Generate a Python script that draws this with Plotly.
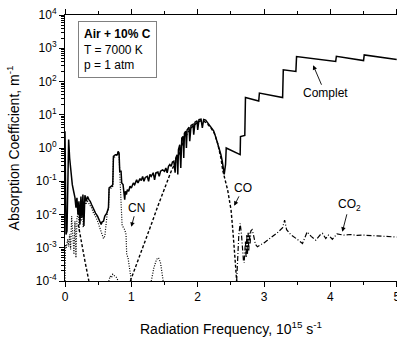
import plotly.graph_objects as go

# ---------------- data ----------------
complete_x = [0.000, 0.008, 0.015, 0.030, 0.045, 0.055, 0.07, 0.09, 0.11, 0.13, 0.15, 0.165, 0.18, 0.195,
              0.21, 0.225, 0.24, 0.255, 0.27, 0.285, 0.30, 0.32, 0.34, 0.36, 0.38, 0.40, 0.43, 0.46, 0.49,
              0.52, 0.545, 0.56, 0.58, 0.60, 0.63, 0.655, 0.665, 0.70, 0.72, 0.73, 0.76, 0.79, 0.80, 0.815,
              0.825, 0.845, 0.855, 0.875, 0.89, 0.90, 0.91, 0.925, 0.94, 0.96, 0.98, 1.00, 1.03, 1.05, 1.08,
              1.10, 1.13, 1.15, 1.17, 1.19, 1.21, 1.24, 1.26, 1.28, 1.30, 1.33, 1.35, 1.37, 1.40, 1.42, 1.44,
              1.47, 1.50, 1.52, 1.54, 1.56, 1.58, 1.60, 1.62, 1.64, 1.66, 1.67, 1.69, 1.70, 1.71, 1.73, 1.745,
              1.76, 1.78, 1.79, 1.80, 1.82, 1.83, 1.84, 1.87, 1.88, 1.90, 1.93, 1.94, 1.96, 1.99, 2.00, 2.02,
              2.05, 2.07, 2.09, 2.12, 2.15, 2.18, 2.21, 2.24, 2.27, 2.30, 2.33, 2.35, 2.37, 2.39, 2.40, 2.42,
              2.43, 2.64, 2.645, 2.71, 2.72, 2.92, 2.93, 3.28, 3.29, 3.48, 3.49, 4.08, 4.09, 4.50, 4.51, 5.00]
complete_y = [3.2, 0.032, 0.0025, 0.0032, 0.1, 1.8, 0.5, 0.16, 0.079, 0.05, 0.032, 0.016, 0.032, 0.01,
              0.025, 0.005, 0.035, 0.0079, 0.04, 0.0045, 0.038, 0.025, 0.035, 0.028, 0.025, 0.02, 0.014, 0.011, 0.0089,
              0.0063, 0.005, 0.006, 0.0063, 0.0089, 0.011, 0.016, 0.063, 0.071, 0.079, 0.56, 0.63, 0.63, 0.79, 0.71,
              0.2, 0.2, 0.089, 0.079, 0.032, 0.028, 0.05, 0.04, 0.056, 0.05, 0.071, 0.063, 0.089, 0.079, 0.11,
              0.089, 0.12, 0.105, 0.14, 0.1, 0.13, 0.14, 0.1, 0.16, 0.14, 0.18, 0.11, 0.18, 0.19, 0.14, 0.2,
              0.22, 0.2, 0.25, 0.18, 0.28, 0.32, 0.28, 0.38, 0.4, 0.18, 0.5, 0.63, 0.16, 0.89, 1.26, 0.25,
              2.0, 2.24, 0.5, 2.8, 3.2, 1.0, 3.5, 4.2, 1.6, 4.8, 5.2, 2.5, 6.0, 6.6, 3.5, 7.1,
              7.4, 4.0, 7.2, 6.9, 5.8, 5.0, 4.0, 3.3, 2.2, 1.4, 1.0, 0.63, 0.4, 0.22, 0.16, 0.32,
              1.0, 0.63, 2.2, 2.4, 33, 26, 45, 33, 224, 200, 560, 400, 575, 427, 630, 457]

cn_x = [0.000, 0.003, 0.008, 0.02, 0.04, 0.055, 0.07, 0.085, 0.10, 0.12, 0.135, 0.15, 0.165, 0.18, 0.20,
        0.215, 0.23, 0.245, 0.26, 0.275, 0.29, 0.31, 0.34, 0.37, 0.40, 0.43, 0.46, 0.49, 0.52, 0.55, 0.58,
        0.60, 0.62, 0.64, 0.655, 0.665, 0.70, 0.72, 0.73, 0.76, 0.80, 0.815, 0.825, 0.84, 0.86, 0.88, 0.90,
        0.92, 0.93, 0.95, 0.98, 1.00, None,
        0.66, 0.68, 0.70, 0.72, 0.75, 0.78, 0.80, None,
        1.30, 1.34, 1.38, 1.41, 1.44, 1.47, 1.48]
cn_y = [1.0e-4, 6.3e-4, 1.26e-3, 1.0e-3, 1.8e-3, 1.1e-3, 2.5e-3, 8.9e-4, 8.9e-3, 2.0e-3, 6.3e-4, 6.3e-3, 5.0e-4, 7.9e-3, 1.1e-2,
        3.2e-3, 1.8e-2, 6.3e-3, 2.8e-2, 4.0e-3, 2.5e-2, 2.0e-2, 2.5e-2, 2.0e-2, 1.6e-2, 1.1e-2, 8.9e-3, 6.3e-3, 4.0e-3, 2.8e-3, 1.9e-3,
        2.2e-3, 6.3e-3, 1.26e-2, 1.4e-2, 5.6e-2, 6.3e-2, 7.1e-2, 0.5, 0.56, 0.71, 0.63, 0.18, 2.5e-2, 5.0e-3, 4.0e-3, 3.5e-3,
        2.5e-3, 6.3e-4, 5.0e-4, 2.0e-4, 1.0e-4, None,
        1.0e-4, 1.4e-4, 1.26e-4, 1.6e-4, 1.4e-4, 1.26e-4, 1.0e-4, None,
        1.0e-4, 2.5e-4, 4.5e-4, 5.0e-4, 3.5e-4, 1.6e-4, 1.0e-4]

co_x = [0.20, 0.25, 0.30, 0.36, None,
        0.985, 1.10, 1.20, 1.30, 1.40, 1.50, 1.60, 1.65, 1.70, 1.75, 1.80, 1.90, 2.00, 2.05, 2.10, 2.15,
        2.20, 2.25, 2.30, 2.35, 2.378, 2.452, 2.503, 2.527, 2.553, 2.568, 2.587]
co_y = [5.0e-3, 1.26e-3, 4.0e-4, 1.0e-4, None,
        1.0e-4, 4.0e-4, 1.4e-3, 5.0e-3, 1.8e-2, 6.3e-2, 0.2, 0.32, 0.5, 1.0, 2.0, 4.0, 6.0, 6.6, 6.3, 5.2,
        4.0, 2.8, 1.4, 0.5, 0.21, 0.054, 0.0135, 0.0039, 0.00107, 0.00034, 0.0001]

co2_x = [2.587, 2.60, 2.62, 2.64, 2.66, 2.69, 2.70, 2.72, 2.73, 2.74, 2.75, 2.76, 2.77, 2.78, 2.79, 2.80,
         2.82, 2.84, 2.87, 2.90, 3.00, 3.10, 3.20, 3.28, 3.31, 3.34, 3.40, 3.50, 3.58, 3.65, 3.71, 3.78,
         3.85, 3.88, 3.93, 3.97, 4.03, 4.10, 4.20, 4.30, 4.40, 4.50, 4.60, 4.70, 4.80, 4.90, 5.00]
co2_y = [1.0e-4, 5.0e-4, 2.5e-3, 5.4e-3, 2.5e-3, 4.0e-4, 3.5e-4, 1.6e-3, 5.0e-4, 2.5e-3, 6.3e-4, 2.8e-3, 7.9e-4, 2.8e-3, 1.26e-3, 3.2e-3,
         3.5e-3, 2.5e-3, 1.26e-3, 1.07e-3, 1.4e-3, 2.0e-3, 2.8e-3, 4.0e-3, 6.8e-3, 3.5e-3, 2.5e-3, 1.8e-3, 1.35e-3, 3.0e-3, 2.2e-3, 1.7e-3,
         2.5e-3, 2.7e-3, 1.9e-3, 2.4e-3, 1.8e-3, 2.6e-3, 2.4e-3, 2.5e-3, 2.35e-3, 2.4e-3, 2.35e-3, 2.3e-3, 2.25e-3, 2.2e-3, 2.1e-3]

x_tickvals = [0, 1, 2, 3, 4, 5]
x_ticktext = ["0", "1", "2", "3", "4", "5"]
y_tickvals = [1e-4, 1e-3, 1e-2, 1e-1, 1e0, 1e1, 1e2, 1e3, 1e4]
y_ticktext = ["10<sup>-4</sup>", "10<sup>-3</sup>", "10<sup>-2</sup>", "10<sup>-1</sup>", "10<sup>0</sup>",
              "10<sup>1</sup>", "10<sup>2</sup>", "10<sup>3</sup>", "10<sup>4</sup>"]

# (label, arrow head x, arrow head log10 y, text offset ax, ay in pixels)
labels = [
    ("Complet", 3.74, 2.49, 12, 28),
    ("CN", 1.00, -2.37, 5, -19),
    ("CO", 2.55, -1.74, 9, -18),
    ("CO<sub>2</sub>", 4.18, -2.52, 7, -27),
]

FONT = "Liberation Sans, Arial, sans-serif"

fig = go.Figure()
fig.add_trace(go.Scatter(x=cn_x, y=cn_y, mode="lines", line=dict(color="black", width=1.2, dash="1px,1.5px"),
                         connectgaps=False, showlegend=False))
fig.add_trace(go.Scatter(x=co_x, y=co_y, mode="lines", line=dict(color="black", width=1.4, dash="3px,2px"),
                         connectgaps=False, showlegend=False))
fig.add_trace(go.Scatter(x=co2_x, y=co2_y, mode="lines", line=dict(color="black", width=1.2, dash="5px,2px,1px,2px"),
                         showlegend=False))
fig.add_trace(go.Scatter(x=complete_x, y=complete_y, mode="lines", line=dict(color="black", width=1.5),
                         showlegend=False))

for text, hx, hy, ax, ay in labels:
    fig.add_annotation(x=hx, y=hy, xref="x", yref="y", text=text, showarrow=True,
                       ax=ax, ay=ay, axref="pixel", ayref="pixel", standoff=0,
                       arrowhead=2, arrowsize=1, arrowwidth=0.9, arrowcolor="black",
                       font=dict(family=FONT, size=12, color="black"))

fig.add_annotation(x=0.04, y=0.978, xref="paper", yref="paper", xanchor="left", yanchor="top",
                   text="<b>Air + 10% C</b><br>T = 7000 K<br>p = 1 atm", align="left", showarrow=False,
                   font=dict(family=FONT, size=12, color="black"),
                   bordercolor="#808080", borderwidth=1, borderpad=5, bgcolor="white")

fig.update_xaxes(range=[0, 5.004], tickmode="array", tickvals=x_tickvals, ticktext=x_ticktext,
                 ticks="outside", ticklen=5, tickwidth=1, tickcolor="black",
                 ticklabeloverflow="allow", automargin="bottom",
                 minor=dict(dtick=0.5, tick0=0, ticks="outside", ticklen=3, tickcolor="black", showgrid=False),
                 showline=True, linecolor="black", linewidth=1, mirror="ticks",
                 showgrid=False, zeroline=False,
                 tickfont=dict(family=FONT, size=12, color="black"),
                 title=dict(text="Radiation Frequency, 10<sup>15</sup> s<sup>-1</sup>", standoff=20,
                            font=dict(family=FONT, size=14, color="black")))
fig.update_yaxes(type="log", range=[-4, 4], tickmode="array", tickvals=y_tickvals, ticktext=y_ticktext,
                 ticks="outside", ticklen=5, tickwidth=1, tickcolor="black", automargin="left",
                 minor=dict(dtick="D1", ticks="outside", ticklen=3, tickcolor="black", showgrid=False),
                 showline=True, linecolor="black", linewidth=1, mirror=False,
                 showgrid=False, zeroline=False,
                 tickfont=dict(family=FONT, size=12, color="black"),
                 title=dict(text="Absorption Coefficient, m<sup>-1</sup>", standoff=12,
                            font=dict(family=FONT, size=14, color="black")))

fig.update_layout(width=397, height=339, autosize=False,
                  margin=dict(l=65, r=0, t=15, b=58),
                  plot_bgcolor="white", paper_bgcolor="white",
                  font=dict(family=FONT, color="black"))

fig.write_html("out.html")
